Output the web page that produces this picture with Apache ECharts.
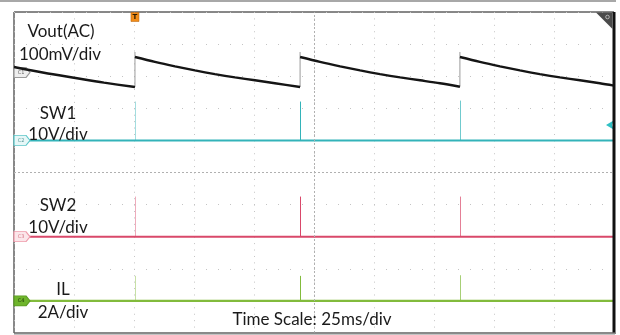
<!DOCTYPE html>
<html>
<head>
<meta charset="utf-8">
<script src="https://cdn.jsdelivr.net/npm/echarts@6/dist/echarts.min.js"></script>
<style>
  html, body { margin: 0; padding: 0; background: #fff; }
  #scope { width: 620px; height: 335px; }
</style>
</head>
<body>
<div id="scope"></div>
<script>
// ---- Time base: 25 ms/div, 10 divisions ----
const timeMin = 0;
const timeMax = 250;          // ms
const timeDiv = 25;           // ms per division

// Switching events (ms)
const switchTimes = [50.4, 119.2, 185.8];

// ---- CH1: Vout, AC coupled (mV) ----
const voutTime = [
  0, 12.5, 25, 37.5, 50.4, 50.4,
  50.4, 58.7, 67.1, 75.4, 83.7, 92.1, 100.4, 108.7, 119.2, 119.2,
  119.2, 127.5, 135.9, 144.2, 152.5, 160.9, 169.2, 177.5, 185.8, 185.8,
  185.8, 194.1, 202.5, 210.8, 219.1, 227.5, 235.8, 244.1, 250
];
const voutMv = [
  17.1, -0.6, -16.2, -31.5, -45.2, null,
  48.3, 33.2, 19.3, 6.5, -5.0, -15.3, -24.3, -33.5, -45.2, null,
  48.3, 33.2, 19.3, 6.5, -5.0, -15.3, -24.3, -33.5, -44.5, null,
  48.3, 33.2, 19.3, 6.5, -5.0, -15.3, -24.3, -33.5, -41.0
];
const voutStepLowMv = [-45.2, -45.2, -44.5];
const voutStepHighMv = [63.9, 63.9, 63.9];

// ---- CH2: SW1 (V), CH3: SW2 (V), CH4: IL (A) ----
const sw1Base = 0;
const sw1Peak = [12.1, 12.1, 12.4];
const sw2Base = 0;
const sw2Peak = [12.5, 12.5, 12.5];
const ilBase = 0;
const ilPeak = [1.56, 1.56, 1.6];
const triggerLevelV = 4.8;

// Vertical scale per channel and ground position (in divisions from centre)
const ch = {
  vout: { perDiv: 100, pos: 3.115, color: '#151515' },
  sw1:  { perDiv: 10,  pos: 1,     color: '#33b3b9' },
  sw2:  { perDiv: 10,  pos: -2,    color: '#d9486a' },
  il:   { perDiv: 2,   pos: -4,    color: '#82bb3c' }
};
const toDiv = (c, v) => (v == null ? null : v / c.perDiv + c.pos);

const spikeOpacity = [0.45, 1, 0.7];
const tagPath = 'path://M0,0 L12,0 L16,5 L12,10 L0,10 Z';

function tag(name, c, fill, stroke, textColor) {
  return {
    symbol: tagPath,
    symbolSize: [16, 10],
    symbolOffset: [8, 0],
    data: [{
      coord: [timeMin, c.pos],
      itemStyle: { color: fill, borderColor: stroke, borderWidth: 1 },
      label: { show: true, formatter: name, fontSize: 5, color: textColor,
               fontFamily: 'DejaVu Sans', offset: [-1, 0] }
    }]
  };
}

function spikes(c, base, peaks) {
  return {
    silent: true,
    symbol: ['none', 'none'],
    label: { show: false },
    data: switchTimes.map((t, i) => [
      { coord: [t, toDiv(c, base)],
        lineStyle: { color: c.color, width: 1, type: 'solid', opacity: spikeOpacity[i] } },
      { coord: [t, toDiv(c, peaks[i])] }
    ])
  };
}

function flat(c, base) {
  return [[timeMin, toDiv(c, base)], [timeMax, toDiv(c, base)]];
}

const voutData = voutTime.map((t, i) => [t, toDiv(ch.vout, voutMv[i])]);
const stepData = [];
switchTimes.forEach((t, i) => {
  stepData.push([t, toDiv(ch.vout, voutStepLowMv[i])]);
  stepData.push([t, toDiv(ch.vout, voutStepHighMv[i])]);
  stepData.push([t, null]);
});

const chart = echarts.init(document.getElementById('scope'), null, { renderer: 'canvas' });

const labelFont = 'Lato';
const textStyle = (txt, x, y) => ({
  type: 'text', x: x, y: y, z: 100,
  style: { text: txt, fill: '#1a1a1a', font: '17px ' + labelFont,
           textAlign: 'center', textVerticalAlign: 'middle' }
});

chart.setOption({
  animation: false,
  backgroundColor: '#fff',
  grid: { left: 14, right: 6, top: 12, bottom: 2, show: true,
          borderColor: '#111', borderWidth: 1, backgroundColor: '#fff' },
  xAxis: {
    type: 'value', min: timeMin, max: timeMax, interval: timeDiv,
    axisLine: { show: false }, axisTick: { show: false }, axisLabel: { show: false },
    splitLine: { show: true, lineStyle: { color: '#c4c4c4', width: 1, type: [1, 5.42], dashOffset: 0 } }
  },
  yAxis: {
    type: 'value', min: -5, max: 5, interval: 1,
    axisLine: { show: false }, axisTick: { show: false }, axisLabel: { show: false },
    splitLine: { show: true, lineStyle: { color: '#c4c4c4', width: 1, type: [1, 11], dashOffset: 0 } }
  },
  series: [
    {
      // centre cross-hair of the graticule
      type: 'line', data: [], z: 1, silent: true,
      markLine: {
        silent: true, symbol: ['none', 'none'], label: { show: false },
        lineStyle: { color: '#b0b0b0', width: 1, type: [2, 2] },
        data: [{ xAxis: (timeMin + timeMax) / 2 }, { yAxis: 0 }]
      }
    },
    {
      name: 'Vout step', type: 'line', data: stepData, z: 3,
      showSymbol: false, connectNulls: false,
      lineStyle: { color: '#9a9a9a', width: 1 }
    },
    {
      name: 'Vout', type: 'line', data: voutData, z: 5,
      showSymbol: false, connectNulls: false, smooth: 0.3,
      lineStyle: { color: ch.vout.color, width: 2.4 },
      markPoint: tag('C1', ch.vout, '#eeeeee', '#9a9a9a', '#666')
    },
    {
      name: 'Trigger', type: 'line', data: [], z: 6,
      markPoint: {
        symbol: 'rect', symbolSize: [8, 9], symbolOffset: [0, 5],
        data: [{
          coord: [switchTimes[0], 5],
          itemStyle: { color: '#f28c18', borderColor: '#b35c00', borderWidth: 0.5 },
          label: { show: true, formatter: 'T', fontSize: 7, fontWeight: 'bold',
                   color: '#2a1a00', fontFamily: 'DejaVu Sans' }
        }]
      }
    },
    {
      name: 'SW1', type: 'line', data: flat(ch.sw1, sw1Base), z: 4,
      showSymbol: false, lineStyle: { color: ch.sw1.color, width: 2 },
      markLine: spikes(ch.sw1, sw1Base, sw1Peak),
      markPoint: tag('C2', ch.sw1, '#e6f7f7', '#5cc6c9', '#5a9a9a')
    },
    {
      name: 'SW1 trigger', type: 'line', data: [], z: 6,
      markPoint: {
        symbol: 'arrow', symbolSize: [7, 8], symbolRotate: 90, symbolOffset: [-8, 0],
        data: [{ coord: [timeMax, toDiv(ch.sw1, triggerLevelV)],
                 itemStyle: { color: '#2fc0c4' } }]
      }
    },
    {
      name: 'SW2', type: 'line', data: flat(ch.sw2, sw2Base), z: 4,
      showSymbol: false, lineStyle: { color: ch.sw2.color, width: 2 },
      markLine: spikes(ch.sw2, sw2Base, sw2Peak),
      markPoint: tag('C3', ch.sw2, '#fbe6ea', '#ee9aaa', '#d87a8a')
    },
    {
      name: 'IL', type: 'line', data: flat(ch.il, ilBase), z: 4,
      showSymbol: false, lineStyle: { color: ch.il.color, width: 2.2 },
      markLine: spikes(ch.il, ilBase, ilPeak),
      markPoint: tag('C4', ch.il, '#6fb52c', '#5a9a22', '#1f3a08')
    }
  ],
  graphic: [
    // frame details
    { type: 'rect', shape: { x: 0, y: 0, width: 616, height: 2 }, style: { fill: '#a8a8a8' }, z: 90 },
    { type: 'rect', shape: { x: 612.5, y: 12, width: 3, height: 322 }, style: { fill: '#111' }, z: 90 },
    { type: 'rect', shape: { x: 14, y: 332.5, width: 601, height: 2 }, style: { fill: '#8a8a8a' }, z: 90 },
    { type: 'polygon', shape: { points: [[596, 12.5], [612.5, 12.5], [612.5, 29]] },
      style: { fill: '#4a4a4a' }, z: 91 },
    { type: 'circle', shape: { cx: 607.5, cy: 17, r: 1.8 },
      style: { fill: 'none', stroke: '#c8c8c8', lineWidth: 0.8 }, z: 92 },
    // channel annotations
    textStyle('Vout(AC)', 61, 32),
    textStyle('100mV/div', 60, 55),
    textStyle('SW1', 58, 114),
    textStyle('10V/div', 58, 135),
    textStyle('SW2', 58, 206),
    textStyle('10V/div', 58, 228),
    textStyle('IL', 63, 290),
    textStyle('2A/div', 63, 313),
    textStyle('Time Scale: 25ms/div', 312, 320)
  ]
});
</script>
</body>
</html>
